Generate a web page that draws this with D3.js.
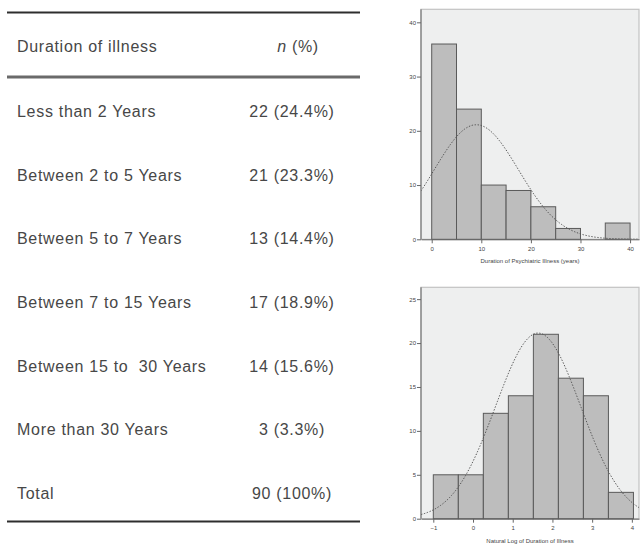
<!DOCTYPE html>
<html>
<head>
<meta charset="utf-8">
<script src="https://cdn.jsdelivr.net/npm/d3@7"></script>
<style>
  html, body { margin: 0; padding: 0; background: #fff; }
  svg { display: block; }
  .tbl text { font-family: "Liberation Sans", Arial, sans-serif; font-size: 16px; fill: #474747; letter-spacing: 0.7px; white-space: pre; }
  .ax text { font-family: "Liberation Sans", Arial, sans-serif; font-size: 6px; fill: #444; }
  .ax path, .ax line { stroke: #666; }
  .axtitle { font-family: "Liberation Sans", Arial, sans-serif; font-size: 6px; fill: #444; }
</style>
</head>
<body>
<svg id="chart" width="640" height="545"></svg>
<script>
// Table: duration of illness
const categories = ["Less than 2 Years", "Between 2 to 5 Years", "Between 5 to 7 Years",
  "Between 7 to 15 Years", "Between 15 to  30 Years", "More than 30 Years", "Total"];
const counts = [22, 21, 13, 17, 14, 3, 90];
const percents = ["24.4", "23.3", "14.4", "18.9", "15.6", "3.3", "100"];

// Histogram 1: duration of psychiatric illness (years)
const durationBinStarts = [0, 5, 10, 15, 20, 25, 30, 35];
const durationBinWidth = 5;
const durationCounts = [36, 24, 10, 9, 6, 2, 0, 3];
const durationXTicks = [0, 10, 20, 30, 40];
const durationYTicks = [0, 10, 20, 30, 40];
const durationMean = 9.0;
const durationSD = 8.5;

// Histogram 2: natural log of duration of illness
const logBinStarts = [-1.0, -0.37, 0.26, 0.89, 1.52, 2.15, 2.78, 3.41];
const logBinWidth = 0.63;
const logCounts = [5, 5, 12, 14, 21, 16, 14, 3];
const logXTicks = [-1, 0, 1, 2, 3, 4];
const logYTicks = [0, 5, 10, 15, 20, 25];
const logMean = 1.64;
const logSD = 1.07;

const N = 90;

const svg = d3.select("#chart");

// ---------- table ----------
const tbl = svg.append("g").attr("class", "tbl");
const rule = (y, w, c) => tbl.append("line")
  .attr("x1", 7).attr("x2", 360).attr("y1", y).attr("y2", y)
  .attr("stroke", c).attr("stroke-width", w);
rule(12.5, 2, "#2e2e2e");
rule(77, 3, "#6a6a6a");
rule(521.5, 2, "#2e2e2e");

const headY = 46;
tbl.append("text").attr("x", 17).attr("y", headY).attr("dy", "0.35em").text("Duration of illness");
const hdr = tbl.append("text").attr("x", 298).attr("y", headY).attr("dy", "0.35em").attr("text-anchor", "middle");
hdr.append("tspan").attr("font-style", "italic").text("n");
hdr.append("tspan").text(" (%)");

const rowY = d3.scalePoint().domain(categories).range([111.5, 493.3]);
const rows = tbl.selectAll("g.row").data(categories).join("g").attr("class", "row");
rows.append("text").attr("x", 17).attr("y", d => rowY(d)).attr("dy", "0.35em").text(d => d);
rows.append("text").attr("x", 292).attr("y", d => rowY(d)).attr("dy", "0.35em")
  .attr("text-anchor", "middle")
  .text((d, i) => `${counts[i]} (${percents[i]}%)`);

// ---------- histograms ----------
function histogram(opts) {
  const { left, right, top, bottom, xDomain, yDomain, starts, width, values,
          xTicks, yTicks, mean, sd, title, id } = opts;
  const x = d3.scaleLinear().domain(xDomain).range([left, right]);
  const y = d3.scaleLinear().domain(yDomain).range([bottom, top]);
  const g = svg.append("g");

  g.append("rect").attr("x", left).attr("y", top)
    .attr("width", right - left).attr("height", bottom - top)
    .attr("fill", "#eeefef").attr("stroke", "#c2c2c2").attr("stroke-width", 1.2);

  g.append("clipPath").attr("id", id).append("rect")
    .attr("x", left).attr("y", top).attr("width", right - left).attr("height", bottom - top);

  const bins = values.map((v, i) => ({ x0: starts[i], count: v })).filter(b => b.count > 0);
  g.selectAll("rect.bar").data(bins).join("rect").attr("class", "bar")
    .attr("x", b => x(b.x0))
    .attr("y", b => y(b.count))
    .attr("width", b => x(b.x0 + width) - x(b.x0))
    .attr("height", b => y(0) - y(b.count))
    .attr("fill", "#bdbdbd").attr("stroke", "#5a5a5a").attr("stroke-width", 1);

  // fitted normal curve
  const scale = N * width / (sd * Math.sqrt(2 * Math.PI));
  const xs = d3.range(0, 201).map(k => xDomain[0] + (xDomain[1] - xDomain[0]) * k / 200);
  const line = d3.line()
    .x(v => x(v))
    .y(v => y(scale * Math.exp(-0.5 * ((v - mean) / sd) ** 2)))
    .curve(d3.curveBasis);
  g.append("path").datum(xs).attr("d", line)
    .attr("clip-path", `url(#${id})`)
    .attr("fill", "none").attr("stroke", "#555").attr("stroke-width", 1)
    .attr("stroke-dasharray", "1.4,1.6");

  const ya = g.append("g").attr("class", "ax").attr("transform", `translate(${left},0)`)
    .call(d3.axisLeft(y).tickValues(yTicks).tickFormat(d3.format("d"))
      .tickSize(4).tickPadding(1).tickSizeOuter(0));
  ya.select(".domain").attr("d", `M0,${top}V${bottom}`);

  g.append("g").attr("class", "ax").attr("transform", `translate(0,${bottom})`)
    .call(d3.axisBottom(x).tickValues(xTicks).tickFormat(d3.format("d"))
      .tickSize(4).tickPadding(3).tickSizeOuter(0));

  g.append("text").attr("class", "axtitle")
    .attr("x", (left + right) / 2).attr("y", bottom + 24)
    .attr("text-anchor", "middle").text(title);
}

histogram({
  id: "clipTop", left: 421, right: 639, top: 9.3, bottom: 239.3,
  xDomain: [-2.16, 41.8], yDomain: [0, 42.4],
  starts: durationBinStarts, width: durationBinWidth, values: durationCounts,
  xTicks: durationXTicks, yTicks: durationYTicks,
  mean: durationMean, sd: durationSD,
  title: "Duration of Psychiatric Illness (years)"
});

histogram({
  id: "clipBottom", left: 421, right: 639, top: 287.3, bottom: 518.7,
  xDomain: [-1.31, 4.18], yDomain: [0, 26.35],
  starts: logBinStarts, width: logBinWidth, values: logCounts,
  xTicks: logXTicks, yTicks: logYTicks,
  mean: logMean, sd: logSD,
  title: "Natural Log of Duration of Illness"
});
</script>
</body>
</html>
